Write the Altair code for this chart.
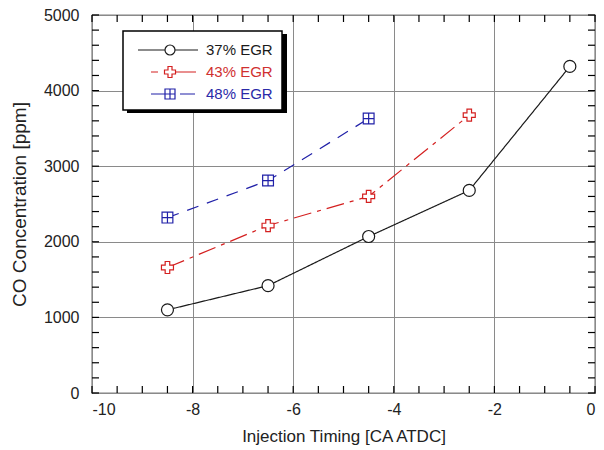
import altair as alt
import pandas as pd

# ---- data ----
series_names = ["37% EGR", "43% EGR", "48% EGR"]
timing_37 = [-8.5, -6.5, -4.5, -2.5, -0.5]
co_37 = [1100, 1420, 2070, 2680, 4320]
timing_43 = [-8.5, -6.5, -4.5, -2.5]
co_43 = [1660, 2215, 2600, 3675]
timing_48 = [-8.5, -6.5, -4.5]
co_48 = [2320, 2810, 3630]

x_tick_values = [-10, -9.5, -9, -8.5, -8, -7.5, -7, -6.5, -6, -5.5, -5, -4.5, -4,
                 -3.5, -3, -2.5, -2, -1.5, -1, -0.5, 0]
x_major_values = [-10, -8, -6, -4, -2, 0]
y_tick_values = [0, 200, 400, 600, 800, 1000, 1200, 1400, 1600, 1800, 2000, 2200,
                 2400, 2600, 2800, 3000, 3200, 3400, 3600, 3800, 4000, 4200, 4400,
                 4600, 4800, 5000]
y_major_values = [0, 1000, 2000, 3000, 4000, 5000]

series_colors = ["#1a1a1a", "#d42020", "#2020a8"]
series_dashes = [[1, 0], [18, 6, 4, 6], [12, 9]]

marker_paths = [
    "M-1,0A1,1 0 1,0 1,0A1,1 0 1,0 -1,0Z",
    "M-0.38,-1H0.38V-0.38H1V0.38H0.38V1H-0.38V0.38H-1V-0.38H-0.38Z",
    "M-0.9,-0.9H0.9V0.9H-0.9Z M0,-0.9V0.9 M-0.9,0H0.9",
]
legend_paths = [
    "M-3.2,0H-0.5M0.5,0H2.8M-0.5,0A0.5,0.5 0 1,0 0.5,0A0.5,0.5 0 1,0 -0.5,0Z",
    "M-1.9,0H-1.2M0.55,0H2.6M-0.2,-0.55H0.2V-0.2H0.55V0.2H0.2V0.55H-0.2V0.2H-0.55V-0.2H-0.2Z",
    "M-1.9,0H-0.5M1.0,0H2.5M-0.5,-0.5H0.5V0.5H-0.5Z M0,-0.5V0.5 M-0.5,0H0.5",
]

rows = []
for name, xs, ys in [(series_names[0], timing_37, co_37),
                     (series_names[1], timing_43, co_43),
                     (series_names[2], timing_48, co_48)]:
    for xv, yv in zip(xs, ys):
        rows.append({"series": name, "timing": xv, "co": yv})
df = pd.DataFrame(rows)
x_ticks_df = pd.DataFrame({"t": x_tick_values})
y_ticks_df = pd.DataFrame({"v": y_tick_values})

FONT = "Liberation Sans"
W, H, TICK = 503, 378, 7
x_scale = alt.Scale(domain=[-10, 0], nice=False, zero=False)
y_scale = alt.Scale(domain=[0, 5000], nice=False)
color_scale = alt.Scale(domain=series_names, range=series_colors)

# labelled axes (bottom / left)
x_axis_bottom = alt.Axis(
    orient="bottom", values=x_major_values,
    labelExpr="'' + datum.value",
    ticks=False, domain=False, grid=False,
    labelFont=FONT, labelFontSize=16, labelColor="#222", labelPadding=8,
    title="Injection Timing [CA ATDC]", titleFont=FONT, titleFontSize=17,
    titleFontWeight="normal", titleColor="#222", titlePadding=11,
)
y_axis_left = alt.Axis(
    orient="left", values=y_major_values, format="d",
    ticks=False, domain=False, grid=False,
    labelFont=FONT, labelFontSize=16, labelColor="#222", labelPadding=13,
    title="CO Concentration [ppm]", titleFont=FONT, titleFontSize=19,
    titleFontWeight="normal", titleColor="#222", titlePadding=14,
)
# grid-only axes
x_axis_grid = alt.Axis(orient="top", values=x_major_values, labels=False, ticks=False,
                       domain=False, grid=True, gridColor="#8a8a8a", gridWidth=1, title=None)
y_axis_grid = alt.Axis(orient="right", values=y_major_values, labels=False, ticks=False,
                       domain=False, grid=True, gridColor="#8a8a8a", gridWidth=1, title=None)

box_src = alt.Data(values=[{"k": 1}])
shadow = alt.Chart(box_src).mark_rect(color="black").encode(
    x=alt.value(35), x2=alt.value(195), y=alt.value(19), y2=alt.value(98)
)
box = alt.Chart(box_src).mark_rect(fill="white", stroke="black", strokeWidth=1.5).encode(
    x=alt.value(31), x2=alt.value(190), y=alt.value(16), y2=alt.value(95)
)

lines = alt.Chart(df).mark_line(strokeWidth=1.2).encode(
    x=alt.X("timing:Q", scale=x_scale, axis=x_axis_bottom),
    y=alt.Y("co:Q", scale=y_scale, axis=y_axis_left),
    color=alt.Color("series:N", scale=color_scale, legend=None),
    strokeDash=alt.StrokeDash("series:N", scale=alt.Scale(domain=series_names, range=series_dashes), legend=None),
)

points = alt.Chart(df).mark_point(filled=True, fill="white", opacity=1, size=144, strokeWidth=1.2).encode(
    x=alt.X("timing:Q", scale=x_scale, axis=None),
    y=alt.Y("co:Q", scale=y_scale, axis=None),
    stroke=alt.Stroke("series:N", scale=color_scale, legend=None),
    shape=alt.Shape("series:N", scale=alt.Scale(domain=series_names, range=marker_paths), legend=None),
)

legend_layer = alt.Chart(df).mark_point(filled=False, opacity=0).encode(
    x=alt.X("timing:Q", scale=x_scale, axis=x_axis_grid),
    y=alt.Y("co:Q", scale=y_scale, axis=y_axis_grid),
    color=alt.Color("series:N", scale=alt.Scale(domain=series_names, range=series_colors),
                    legend=alt.Legend(
                        title=None, orient="none", legendX=67, legendY=24,
                        symbolSize=400, symbolStrokeWidth=1.2,
                        labelFont=FONT, labelFontSize=15, labelOffset=25,
                        labelColor=alt.ExprRef(expr="datum.label == '43% EGR' ? '#d03030' : datum.label == '48% EGR' ? '#2a2aa8' : '#1a1a1a'"),
                        rowPadding=3, padding=0,
                    )),
    shape=alt.Shape("series:N", scale=alt.Scale(domain=series_names, range=legend_paths),
                    legend=alt.Legend(title=None, orient="none", legendX=67, legendY=24,
                                      symbolSize=400)),
)

# inward tick marks on all four sides, placed through the shared scales
tick_x = alt.X("t:Q", scale=x_scale, axis=None)
tick_y = alt.Y("v:Q", scale=y_scale, axis=None)
bottom_ticks = alt.Chart(x_ticks_df).mark_rule(color="black", strokeWidth=1.2).encode(
    x=tick_x, y=alt.value(H - TICK), y2=alt.value(H))
top_ticks = alt.Chart(x_ticks_df).mark_rule(color="black", strokeWidth=1.2).encode(
    x=tick_x, y=alt.value(0), y2=alt.value(TICK))
left_ticks = alt.Chart(y_ticks_df).mark_rule(color="black", strokeWidth=1.2).encode(
    y=tick_y, x=alt.value(0), x2=alt.value(TICK))
right_ticks = alt.Chart(y_ticks_df).mark_rule(color="black", strokeWidth=1.2).encode(
    y=tick_y, x=alt.value(W - TICK), x2=alt.value(W))

chart = alt.layer(
    shadow, box, lines, points, legend_layer, bottom_ticks, top_ticks, left_ticks, right_ticks
).resolve_scale(
    shape="independent", color="independent", stroke="independent"
).resolve_axis(
    x="independent", y="independent"
).properties(
    width=W, height=H,
    autosize=alt.AutoSizeParams(type="none"),
    padding={"left": 92, "top": 15, "right": 9, "bottom": 57},
    background="white",
).configure_view(stroke="black", strokeWidth=1.2)

chart.save("out.html", embed_options={"renderer": "svg", "actions": False})
